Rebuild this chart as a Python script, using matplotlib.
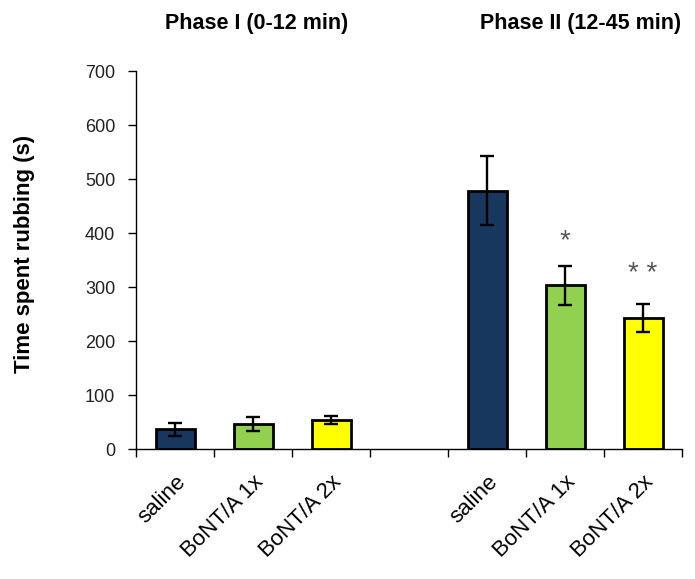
import matplotlib
matplotlib.use("Agg")
import matplotlib.pyplot as plt
import numpy as np

plt.rcParams['font.family'] = ['Liberation Sans', 'DejaVu Sans']

# data
categories = ["saline", "BoNT/A 1x", "BoNT/A 2x", "", "saline", "BoNT/A 1x", "BoNT/A 2x"]
means = [37, 46, 54, 0, 478, 303, 243]
errors = [12, 13, 7, 0, 64, 36, 26]
bar_colors = ['#17375E', '#92D050', '#FFFF00', 'none', '#17375E', '#92D050', '#FFFF00']
stars = ["", "", "", "", "", "*", "* *"]
star_y = [0, 0, 0, 0, 0, 371, 312]

fig = plt.figure(figsize=(6.95, 5.79), dpi=100)
ax = fig.add_axes([0.1957, 0.2245, 0.7856, 0.6528])

x = np.arange(len(categories))
show = [i for i in x if categories[i] != ""]
ax.bar([x[i] for i in show], [means[i] for i in show], width=0.5,
       color=[bar_colors[i] for i in show], edgecolor='black', linewidth=2,
       yerr=[errors[i] for i in show],
       error_kw=dict(ecolor='black', elinewidth=1.7, capsize=4.7, capthick=1.7),
       zorder=2)

for i in x:
    if stars[i]:
        ax.text(x[i], star_y[i], stars[i], ha='center', va='baseline',
                fontsize=20, color='#555555')

ax.set_xlim(-0.5, len(categories) - 0.5)
ax.set_ylim(0, 700)
ax.set_yticks(np.arange(0, 701, 100))
ax.tick_params(axis='y', direction='out', length=6, width=1, labelsize=13, pad=9,
               labelcolor='#222222')

ax.set_xticks([x[i] for i in show])
ax.set_xticklabels([categories[i] for i in show], rotation=45, ha='right',
                   rotation_mode='anchor', fontsize=16)
ax.tick_params(axis='x', which='major', length=0, pad=16)
ax.set_xticks(np.arange(-0.5, len(categories), 1.0), minor=True)
ax.tick_params(axis='x', which='minor', direction='out', length=6, width=1)

for s in ['top', 'right']:
    ax.spines[s].set_visible(False)
for s in ['left', 'bottom']:
    ax.spines[s].set_linewidth(1)

fig.text(25 / 695, 1 - 254 / 579, "Time spent rubbing (s)", rotation=90,
         ha='center', va='center', fontsize=16, fontweight='bold')

fig.text(257 / 695, 1 - 23 / 579, "Phase I (0-12 min)", ha='center', va='center',
         fontsize=15.5, fontweight='bold')
fig.text(581 / 695, 1 - 23 / 579, "Phase II (12-45 min)", ha='center', va='center',
         fontsize=15.5, fontweight='bold')

fig.savefig("out.png", dpi=100, facecolor='white')
